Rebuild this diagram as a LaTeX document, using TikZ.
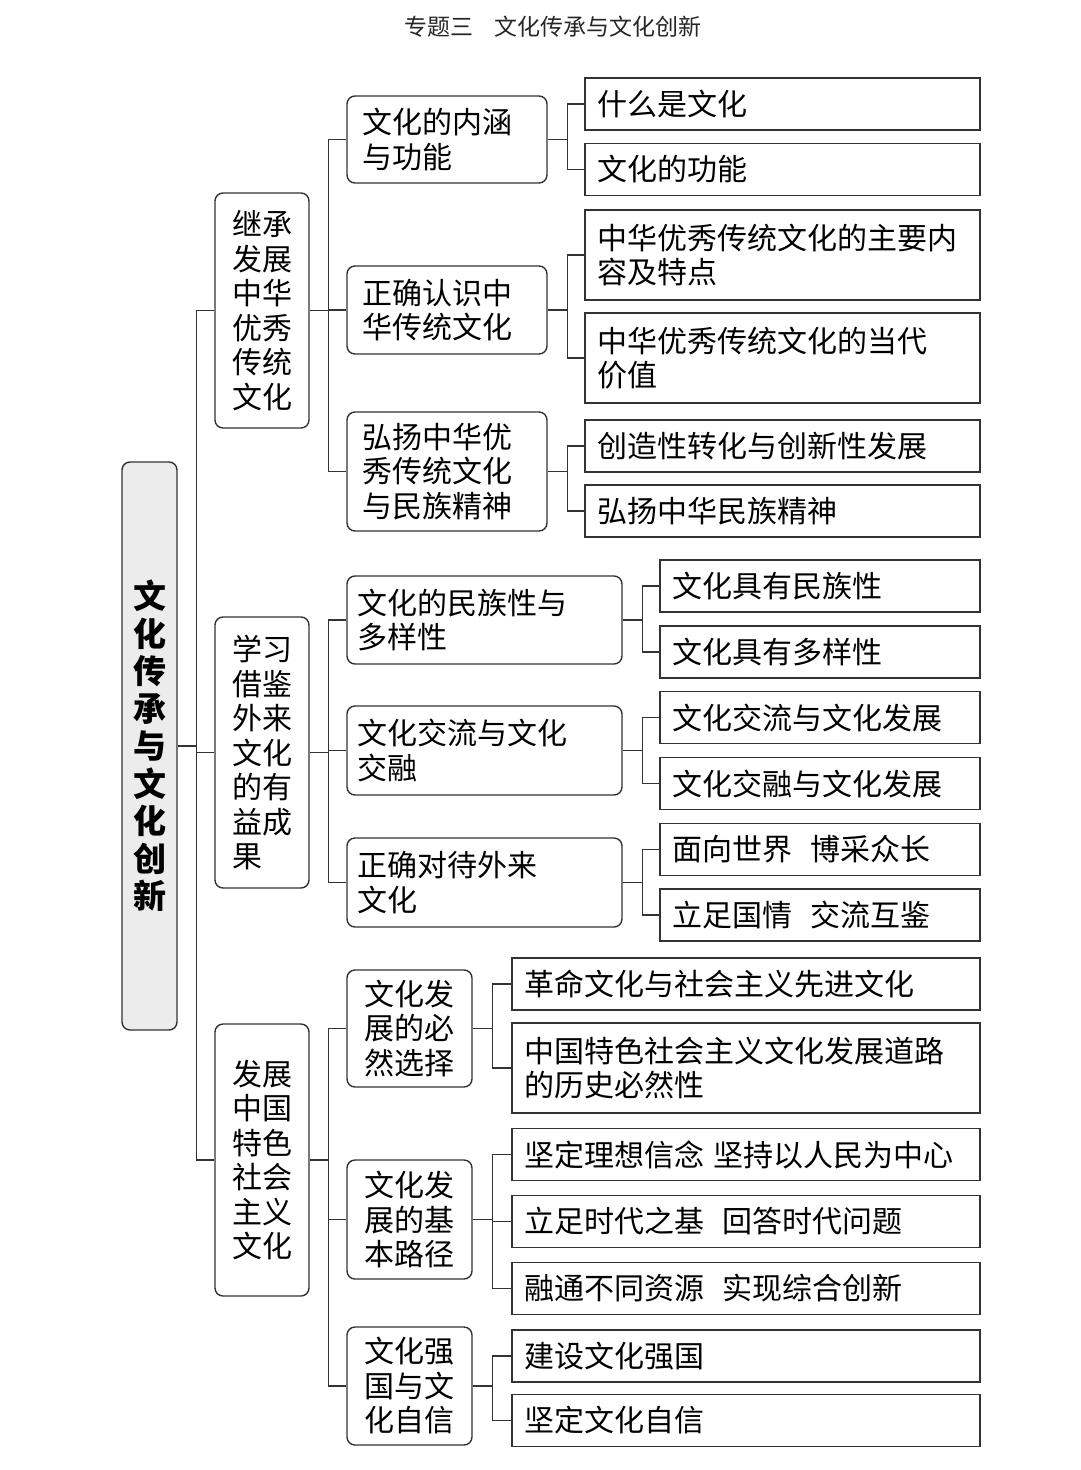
\documentclass[tikz,border=0pt]{standalone}
\usepackage{fontspec}
\newfontfamily\cjk{Noto Sans CJK SC}
\usepackage{xcolor}
\usepackage{tikz}
\definecolor{boxline}{HTML}{333333}
\definecolor{rootfill}{HTML}{ECECEC}

\begin{document}
\begin{tikzpicture}[x=1pt, y=-1pt,
	txt/.style={font=\cjk\fontsize{30}{34.5}\selectfont},
	conn/.style={draw=boxline, line width=1.4pt},
	rootbox/.style={draw=boxline, line width=1.4pt, fill=rootfill, rounded corners=8pt,
		minimum width=55pt, minimum height=568pt, align=center,
		font=\cjk\bfseries\fontsize{33}{37.5}\selectfont},
	lvltwo/.style={txt, draw=boxline, line width=1.4pt, rounded corners=8pt,
		minimum width=94pt, align=center, inner sep=0pt},
	lvlthree/.style={txt, draw=boxline, line width=1.4pt, rounded corners=8pt,
		align=left, inner ysep=0pt},
	leaf/.style={txt, draw=boxline, line width=1.6pt, align=left,
		inner xsep=12pt, inner ysep=0pt, minimum height=52pt}
	]
	\fill[white] (0,0) rectangle (1080,1470);
	\useasboundingbox (0,0) rectangle (1080,1470);

	% title
	\node[font=\cjk\fontsize{23}{26}\selectfont, text=black!85] (title) at (553,27)
		{专题三\hspace{0.9em}文化传承与文化创新};

	% root
	\node[rootbox] (root) at (149.5,746)
		{文\\化\\传\\承\\与\\文\\化\\创\\新};

	% second level
	\node[lvltwo, minimum height=235pt] (a) at (262,310.5)
		{继承\\发展\\中华\\优秀\\传统\\文化};
	\node[lvltwo, minimum height=271pt] (b) at (262,752.5)
		{学习\\借鉴\\外来\\文化\\的有\\益成\\果\hphantom{果}};
	\node[lvltwo, minimum height=272pt] (c) at (262,1160)
		{发展\\中国\\特色\\社会\\主义\\文化};

	% third level
	\node[lvlthree, inner xsep=15pt, text width=170pt, minimum height=87pt] (a1) at (447,139.5)
		{文化的内涵\\与功能};
	\node[lvlthree, inner xsep=15pt, text width=170pt, minimum height=88pt] (a2) at (447,310)
		{正确认识中\\华传统文化};
	\node[lvlthree, inner xsep=15pt, text width=170pt, minimum height=119pt] (a3) at (447,471.5)
		{弘扬中华优\\秀传统文化\\与民族精神};
	\node[lvlthree, inner xsep=10pt, text width=255pt, minimum height=88pt] (b1) at (484.5,620)
		{文化的民族性与\\多样性};
	\node[lvlthree, inner xsep=10pt, text width=255pt, minimum height=89pt] (b2) at (484.5,750.5)
		{文化交流与文化\\交融};
	\node[lvlthree, inner xsep=10pt, text width=255pt, minimum height=89pt] (b3) at (484.5,882.5)
		{正确对待外来\\文化};
	\node[lvlthree, inner xsep=17pt, text width=91pt, minimum height=117pt] (c1) at (409.5,1028.5)
		{文化发\\展的必\\然选择};
	\node[lvlthree, inner xsep=17pt, text width=91pt, minimum height=119pt] (c2) at (409.5,1219.5)
		{文化发\\展的基\\本路径};
	\node[lvlthree, inner xsep=17pt, text width=91pt, minimum height=118pt] (c3) at (409.5,1386)
		{文化强\\国与文\\化自信};

	% leaves
	\node[leaf, text width=371pt] (a1a) at (782.5,104) {什么是文化};
	\node[leaf, text width=371pt] (a1b) at (782.5,169.5) {文化的功能};
	\node[leaf, text width=371pt, minimum height=90pt] (a2a) at (782.5,255)
		{中华优秀传统文化的主要内\\容及特点};
	\node[leaf, text width=371pt, minimum height=90pt] (a2b) at (782.5,358)
		{中华优秀传统文化的当代\\价值};
	\node[leaf, text width=371pt] (a3a) at (782.5,446) {创造性转化与创新性发展};
	\node[leaf, text width=371pt] (a3b) at (782.5,511) {弘扬中华民族精神};

	\node[leaf, text width=296pt] (b1a) at (820,586) {文化具有民族性};
	\node[leaf, text width=296pt] (b1b) at (820,652) {文化具有多样性};
	\node[leaf, text width=296pt] (b2a) at (820,717.5) {文化交流与文化发展};
	\node[leaf, text width=296pt] (b2b) at (820,783.5) {文化交融与文化发展};
	\node[leaf, text width=296pt] (b3a) at (820,849.5) {面向世界\hspace{0.6em}博采众长};
	\node[leaf, text width=296pt] (b3b) at (820,915) {立足国情\hspace{0.6em}交流互鉴};

	\node[leaf, text width=444pt] (c1a) at (746,984) {革命文化与社会主义先进文化};
	\node[leaf, text width=444pt, minimum height=90pt] (c1b) at (746,1068)
		{中国特色社会主义文化发展道路\\的历史必然性};
	\node[leaf, text width=444pt] (c2a) at (746,1154.5) {坚定理想信念\hspace{0.3em}坚持以人民为中心};
	\node[leaf, text width=444pt] (c2b) at (746,1221.5) {立足时代之基\hspace{0.6em}回答时代问题};
	\node[leaf, text width=444pt] (c2c) at (746,1288.5) {融通不同资源\hspace{0.6em}实现综合创新};
	\node[leaf, text width=444pt] (c3a) at (746,1356) {建设文化强国};
	\node[leaf, text width=444pt] (c3b) at (746,1420.5) {坚定文化自信};

	% connectors
	\draw[conn] (root.east) -- ++(19,0) coordinate (rootj);
	\foreach \n in {a,b,c}
		\draw[conn] (rootj) |- (\n.west);
	\draw[conn] (a.east) -- ++(19,0) coordinate (aj);
	\foreach \n in {a1,a2,a3}
		\draw[conn] (aj) |- (\n.west);
	\draw[conn] (b.east) -- ++(19,0) coordinate (bj);
	\foreach \n in {b1,b2,b3}
		\draw[conn] (bj) |- (\n.west);
	\draw[conn] (c.east) -- ++(19,0) coordinate (cj);
	\foreach \n in {c1,c2,c3}
		\draw[conn] (cj) |- (\n.west);

	\foreach \p/\kids in {a1/{a1a,a1b}, a2/{a2a,a2b}, a3/{a3a,a3b},
			b1/{b1a,b1b}, b2/{b2a,b2b}, b3/{b3a,b3b},
			c1/{c1a,c1b}, c2/{c2a,c2b,c2c}, c3/{c3a,c3b}} {
		\draw[conn] (\p.east) -- ++(19.5,0) coordinate (\p j);
		\foreach \k in \kids
			\draw[conn] (\p j) |- (\k.west);
	}
\end{tikzpicture}
\end{document}
